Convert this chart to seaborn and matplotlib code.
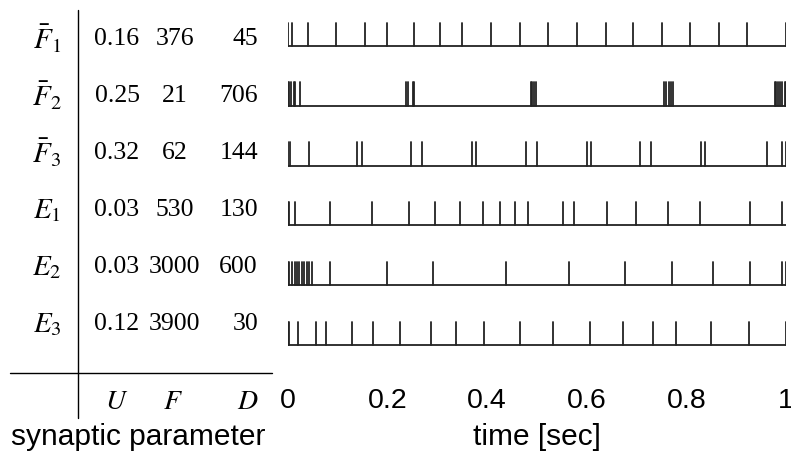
import numpy as np
import pandas as pd
import matplotlib
matplotlib.use("Agg")
import matplotlib.pyplot as plt
import seaborn as sns

# ---------------- data ----------------
row_labels = [r"$\bar{F}_1$", r"$\bar{F}_2$", r"$\bar{F}_3$", r"$E_1$", r"$E_2$", r"$E_3$"]
U_vals = ["0.16", "0.25", "0.32", "0.03", "0.03", "0.12"]
F_vals = ["376", "21", "62", "530", "3000", "3900"]
D_vals = ["45", "706", "144", "130", "600", "30"]

spikes_F1 = [0.0, 0.010, 0.042, 0.097, 0.155, 0.199, 0.254, 0.306, 0.350, 0.409, 0.466,
             0.523, 0.580, 0.638, 0.694, 0.751, 0.808, 0.865, 0.922, 1.0]
spikes_F2 = [0.0, 0.004, 0.008, 0.013, 0.016, 0.025,
             0.237, 0.241, 0.251, 0.254,
             0.488, 0.491, 0.495, 0.498,
             0.755, 0.759, 0.765, 0.769, 0.773,
             0.977, 0.980, 0.984, 0.987, 0.992, 0.997, 1.0]
spikes_F3 = [0.002, 0.005, 0.043, 0.140, 0.149, 0.247, 0.269, 0.370, 0.378, 0.478, 0.500,
             0.600, 0.608, 0.708, 0.730, 0.830, 0.838, 0.962, 0.992, 0.999]
spikes_E1 = [0.0, 0.004, 0.015, 0.085, 0.170, 0.243, 0.296, 0.346, 0.392, 0.426, 0.457,
             0.482, 0.552, 0.574, 0.640, 0.700, 0.764, 0.827, 0.927, 0.992]
spikes_E2 = [0.0, 0.004, 0.010, 0.015, 0.019, 0.023, 0.029, 0.033, 0.039, 0.043, 0.049,
             0.085, 0.199, 0.292, 0.438, 0.565, 0.678, 0.771, 0.853, 0.927, 0.992, 1.0]
spikes_E3 = [0.0, 0.004, 0.022, 0.057, 0.078, 0.130, 0.172, 0.225, 0.287, 0.338, 0.395,
             0.467, 0.533, 0.607, 0.673, 0.734, 0.779, 0.850, 0.925, 1.0]
spike_trains = [spikes_F1, spikes_F2, spikes_F3, spikes_E1, spikes_E2, spikes_E3]

xticks = [0, 0.2, 0.4, 0.6, 0.8, 1.0]
xtick_labels = ["0", "0.2", "0.4", "0.6", "0.8", "1"]

# ---------------- layout (pixels) ----------------
W, H = 791, 458
first_top, row_step, spike_h = 22.5, 59.8, 23.5
text_first, text_step = 39, 57
axis_bottom = 373

sns.set_theme(style="white")
plt.rcParams["mathtext.fontset"] = "stix"
plt.rcParams["text.color"] = "black"
plt.rcParams["xtick.color"] = "black"
plt.rcParams["axes.labelcolor"] = "black"
serif = ["Liberation Serif", "DejaVu Serif"]
sans = ["Liberation Sans", "DejaVu Sans"]

fig = plt.figure(figsize=(W / 100, H / 100), dpi=100)

# background axes in pixel coordinates for the table
bg = fig.add_axes([0, 0, 1, 1])
bg.set_xlim(0, W)
bg.set_ylim(H, 0)
bg.axis("off")

# spike axes
x0, x1 = 287.5, 786.0
ax = fig.add_axes([x0 / W, (H - axis_bottom) / H, (x1 - x0) / W, axis_bottom / H])

seg_rows = []
base_rows = []
sid = 0
for i, train in enumerate(spike_trains):
    top = first_top + row_step * i
    base = top + spike_h
    for t in train:
        seg_rows.append({"t": t, "y": base, "uid": sid})
        seg_rows.append({"t": t, "y": top, "uid": sid})
        sid += 1
    base_rows.append({"t": 0.0, "y": base, "uid": i})
    base_rows.append({"t": 1.0, "y": base, "uid": i})
seg_df = pd.DataFrame(seg_rows)
base_df = pd.DataFrame(base_rows)

sns.lineplot(data=seg_df, x="t", y="y", units="uid", estimator=None, color="#222222",
             linewidth=1.3, ax=ax, legend=False, sort=False)
sns.lineplot(data=base_df, x="t", y="y", units="uid", estimator=None, color="#222222",
             linewidth=1.3, ax=ax, legend=False, sort=False)

ax.set_xlim(0, 1)
ax.set_ylim(axis_bottom, 0)
ax.set_xticks(xticks)
ax.set_xticklabels(xtick_labels, fontfamily=sans, fontsize=20.5, color="black")
ax.set_yticks([])
ax.tick_params(axis="x", length=0, pad=11)
for s in ax.spines.values():
    s.set_visible(False)
ax.set_xlabel("time [sec]", fontfamily=sans, fontsize=21.5, color="black")
ax.xaxis.set_label_coords(0.5, -(437 - axis_bottom) / axis_bottom)
ax.xaxis.label.set_va("center")
ax.set_ylabel("")
ax.patch.set_alpha(0)

# table text
for i in range(len(row_labels)):
    yc = text_first + text_step * i
    bg.text(47, yc, row_labels[i], ha="center", va="center", fontsize=21)
    bg.text(117, yc, U_vals[i], ha="center", va="center", fontfamily=serif, fontsize=18.5)
    bg.text(175, yc, F_vals[i], ha="center", va="center", fontfamily=serif, fontsize=18.5)
    bg.text(258, yc, D_vals[i], ha="right", va="center", fontfamily=serif, fontsize=18.5)

bg.text(117, 401, r"$U$", ha="center", va="center", fontsize=20)
bg.text(173, 401, r"$F$", ha="center", va="center", fontsize=20)
bg.text(248, 401, r"$D$", ha="center", va="center", fontsize=20)
bg.text(138, 437, "synaptic parameter", ha="center", va="center", fontfamily=sans, fontsize=21.5)

bg.plot([10, 272], [373, 373], color="black", linewidth=1.0)
bg.plot([78, 78], [10, 418], color="black", linewidth=1.0)

fig.savefig("out.png", dpi=100)
